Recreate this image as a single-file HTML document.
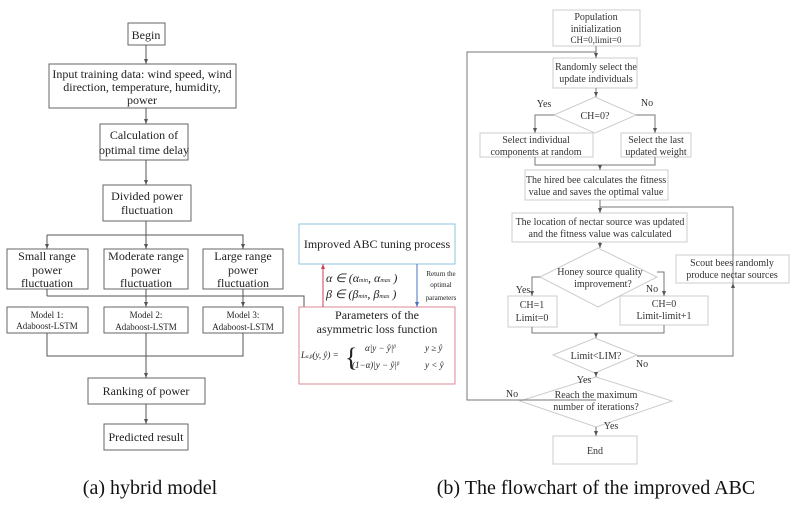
<!DOCTYPE html>
<html><head><meta charset="utf-8"><style>
html,body{margin:0;padding:0;background:#fff;}
svg{display:block;font-family:"Liberation Serif",serif;}
</style></head><body>
<svg width="801" height="505" viewBox="0 0 801 505" xmlns="http://www.w3.org/2000/svg">
<defs>
<marker id="a" markerWidth="6" markerHeight="6" refX="5" refY="3" orient="auto"><path d="M0,1 L5,3 L0,5z" fill="#555"/></marker>
<marker id="r" markerWidth="6" markerHeight="6" refX="5" refY="3" orient="auto"><path d="M0,1 L5,3 L0,5z" fill="#d04050"/></marker>
<marker id="b" markerWidth="6" markerHeight="6" refX="5" refY="3" orient="auto"><path d="M0,1 L5,3 L0,5z" fill="#4a70c0"/></marker>
</defs>
<g fill="none" stroke="#666" stroke-width="1">
<rect x="128" y="23" width="37" height="22"/>
<rect x="49" y="64" width="187" height="44"/>
<rect x="100" y="124" width="88" height="36"/>
<rect x="103" y="185" width="88" height="36"/>
<rect x="7" y="249" width="81" height="40"/>
<rect x="104" y="249" width="84" height="40"/>
<rect x="203" y="249" width="80" height="40"/>
<rect x="7" y="307" width="81" height="26"/>
<rect x="104" y="307" width="84" height="26"/>
<rect x="203" y="307" width="80" height="26"/>
<rect x="88" y="378" width="117" height="26"/>
<rect x="104" y="424" width="84" height="26"/>
</g>
<g stroke="#555" stroke-width="1" fill="none">
<line x1="146" y1="45" x2="146" y2="64" marker-end="url(#a)"/>
<line x1="146" y1="108" x2="146" y2="124" marker-end="url(#a)"/>
<line x1="146" y1="160" x2="146" y2="185" marker-end="url(#a)"/>
<line x1="146" y1="221" x2="146" y2="235"/>
<polyline points="47,235 243,235 243,249" marker-end="url(#a)"/>
<line x1="47" y1="235" x2="47" y2="249" marker-end="url(#a)"/>
<line x1="146" y1="235" x2="146" y2="249" marker-end="url(#a)"/>
<line x1="47" y1="289" x2="47" y2="296"/>
<line x1="146" y1="289" x2="146" y2="307" marker-end="url(#a)"/>
<line x1="243" y1="289" x2="243" y2="307" marker-end="url(#a)"/>
<polyline points="47,296 304,296 304,307"/>
<polyline points="47,333 47,356 243,356 243,333"/>
<line x1="146" y1="333" x2="146" y2="378" marker-end="url(#a)"/>
<line x1="146" y1="404" x2="146" y2="424" marker-end="url(#a)"/>
</g>
<g font-size="12" fill="#222" text-anchor="middle">
<text x="146" y="39">Begin</text>
<text x="142" y="78">Input training data: wind speed, wind</text>
<text x="142" y="91">direction, temperature, humidity,</text>
<text x="142" y="104">power</text>
<text x="144" y="139">Calculation of</text>
<text x="144" y="154">optimal time delay</text>
<text x="147" y="200">Divided power</text>
<text x="147" y="214">fluctuation</text>
<text x="47" y="260">Small range</text><text x="47" y="274">power</text><text x="47" y="287">fluctuation</text>
<text x="146" y="260">Moderate range</text><text x="146" y="274">power</text><text x="146" y="287">fluctuation</text>
<text x="243" y="260">Large range</text><text x="243" y="274">power</text><text x="243" y="287">fluctuation</text>
<g font-size="9"><text x="47" y="318">Model 1:</text><text x="47" y="329">Adaboost-LSTM</text>
<text x="146" y="318">Model 2:</text><text x="146" y="330">Adaboost-LSTM</text>
<text x="243" y="318">Model 3:</text><text x="243" y="330">Adaboost-LSTM</text></g>
<text x="146" y="395">Ranking of power</text>
<text x="146" y="441">Predicted result</text>
</g>
<rect x="299" y="224" width="156" height="40" fill="none" stroke="#8fc3dc"/>
<rect x="299" y="307" width="156" height="77" fill="none" stroke="#d88a95"/>
<line x1="323" y1="307" x2="323" y2="264" stroke="#d04050" marker-end="url(#r)"/>
<line x1="417" y1="264" x2="417" y2="307" stroke="#4a70c0" marker-end="url(#b)"/>
<g fill="#222">
<text x="377" y="248" font-size="12" text-anchor="middle">Improved ABC tuning process</text>
<text x="326" y="282" font-size="12" font-style="italic">α ∈ (α<tspan font-size="6">min</tspan>,  α<tspan font-size="6">max</tspan> )</text>
<text x="326" y="298" font-size="12" font-style="italic">β ∈ (β<tspan font-size="6">min</tspan>,  β<tspan font-size="6">max</tspan> )</text>
<g font-size="7" text-anchor="middle"><text x="441" y="276">Return the</text><text x="441" y="287">optimal</text><text x="441" y="300">parameters</text></g>
<text x="377" y="319" font-size="12" text-anchor="middle">Parameters of the</text>
<text x="377" y="333" font-size="12" text-anchor="middle">asymmetric loss function</text>
<text x="301" y="358" font-size="9" font-style="italic">L<tspan font-size="5">α,β</tspan>(y, ŷ) =</text>
<text x="345" y="366" font-size="26" font-weight="100">{</text>
<text x="365" y="351" font-size="9" font-style="italic">α|y − ŷ|<tspan font-size="5" dy="-3">β</tspan></text>
<text x="352" y="368" font-size="9" font-style="italic">(1−α)|y − ŷ|<tspan font-size="5" dy="-3">β</tspan></text>
<text x="425" y="351" font-size="9" font-style="italic">y ≥ ŷ</text>
<text x="425" y="368" font-size="9" font-style="italic">y &lt; ŷ</text>
</g>
<!-- right flowchart -->
<g fill="none" stroke="#ccc">
<rect x="553" y="10" width="87" height="36"/>
<rect x="553" y="58" width="84" height="30"/>
<polygon points="554,115 595,97 636,115 595,133"/>
<rect x="480" y="133" width="113" height="24"/>
<rect x="621" y="133" width="70" height="24"/>
<rect x="525" y="170" width="143" height="30"/>
<rect x="512" y="213" width="175" height="29"/>
<polygon points="540,277 598,248 657,277 598,307"/>
<rect x="508" y="296" width="49" height="31"/>
<rect x="620" y="296" width="88" height="29"/>
<rect x="676" y="255" width="113" height="28"/>
<polygon points="553,355 595,338 637,355 595,373"/>
<polygon points="520,401 596,377 672,401 596,427"/>
<rect x="553" y="436" width="84" height="28"/>
</g>
<g stroke="#777" fill="none">
<line x1="596" y1="46" x2="596" y2="58" marker-end="url(#a)"/>
<polyline points="596,400 467,400 467,52 596,52"/>
<line x1="596" y1="88" x2="596" y2="97" marker-end="url(#a)"/>
<polyline points="554,115 535,115 535,133" marker-end="url(#a)"/>
<polyline points="636,115 655,115 655,133" marker-end="url(#a)"/>
<polyline points="535,157 535,165 655,165 655,157"/>
<line x1="600" y1="165" x2="600" y2="170" marker-end="url(#a)"/>
<line x1="600" y1="200" x2="600" y2="213" marker-end="url(#a)"/>
<polyline points="733,356 733,207 600,207"/>
<line x1="600" y1="242" x2="600" y2="248" marker-end="url(#a)"/>
<polyline points="540,277 532,277 532,296" marker-end="url(#a)"/>
<polyline points="657,272 664,272 664,296" marker-end="url(#a)"/>
<polyline points="532,327 532,333 664,333 664,325"/>
<line x1="596" y1="333" x2="596" y2="338" marker-end="url(#a)"/>
<polyline points="637,356 733,356 733,283" marker-end="url(#a)"/>
<line x1="596" y1="373" x2="596" y2="377" marker-end="url(#a)"/>
<line x1="596" y1="427" x2="596" y2="436" marker-end="url(#a)"/>
</g>
<g font-size="10" fill="#333" text-anchor="middle">
<text x="596" y="20">Population</text><text x="596" y="32">initialization</text><text x="596" y="43" font-size="9">CH=0,limit=0</text>
<text x="596" y="70">Randomly select the</text><text x="596" y="82">update individuals</text>
<text x="595" y="119">CH=0?</text>
<text x="544" y="107">Yes</text><text x="647" y="106">No</text>
<text x="536" y="143">Select individual</text><text x="536" y="155">components at random</text>
<text x="656" y="143">Select the last</text><text x="656" y="155">updated weight</text>
<text x="596" y="183">The hired bee calculates the fitness</text><text x="596" y="195">value and saves the optimal value</text>
<text x="600" y="225">The location of nectar source was updated</text><text x="600" y="237">and the fitness value was calculated</text>
<text x="600" y="275">Honey source quality</text><text x="603" y="287">improvement?</text>
<text x="523" y="293">Yes</text><text x="652" y="292">No</text>
<text x="532" y="308">CH=1</text><text x="532" y="321">Limit=0</text>
<text x="664" y="307">CH=0</text><text x="664" y="319">Limit-limit+1</text>
<text x="732" y="266">Scout bees randomly</text><text x="732" y="278">produce nectar sources</text>
<text x="596" y="359">Limit&lt;LIM?</text>
<text x="642" y="367">No</text><text x="584" y="383">Yes</text>
<text x="512" y="397">No</text>
<text x="596" y="398">Reach the maximum</text><text x="596" y="410">number of iterations?</text>
<text x="611" y="429">Yes</text>
<text x="595" y="454">End</text>
</g>
<g font-size="20" fill="#111" text-anchor="middle">
<text x="150" y="494">(a) hybrid model</text>
<text x="596" y="494">(b) The flowchart of the improved ABC</text>
</g>
</svg>
</body></html>
